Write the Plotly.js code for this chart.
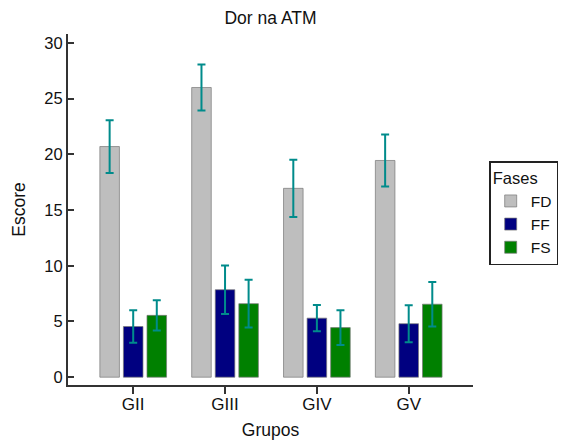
<!DOCTYPE html>
<html>
<head>
<meta charset="utf-8">
<script src="https://cdn.plot.ly/plotly-3.0.1.min.js"></script>
<style>html,body{margin:0;padding:0;background:#fff;}#chart{width:564px;height:441px;}</style>
</head>
<body>
<div id="chart"></div>
<script>
const groups = ["GII", "GIII", "GIV", "GV"];
const phases = ["FD", "FF", "FS"];
const fdValues = [20.7, 26.0, 16.95, 19.45];
const fdErrors = [2.37, 2.06, 2.57, 2.33];
const ffValues = [4.55, 7.85, 5.3, 4.8];
const ffErrors = [1.45, 2.17, 1.17, 1.66];
const fsValues = [5.55, 6.6, 4.45, 6.55];
const fsErrors = [1.35, 2.15, 1.55, 1.99];
const colors = ["#bebebe", "#000080", "#008000"];
const errColor = "#008b8b";

const seriesValues = [fdValues, ffValues, fsValues];
const seriesErrors = [fdErrors, ffErrors, fsErrors];

const traces = phases.map((p, i) => ({
  type: "bar",
  name: p,
  x: groups,
  y: seriesValues[i],
  marker: {color: colors[i], line: {color: "rgba(120,120,120,0.7)", width: 1}},
  error_y: {type: "data", array: seriesErrors[i], visible: true, color: errColor, thickness: 2, width: 4}
}));

const font = {family: "Liberation Sans, Arial, sans-serif", color: "#111"};
const fs = 17;

const layout = {
  width: 564, height: 441,
  margin: {l: 68, r: 91, t: 34, b: 56, autoexpand: false},
  paper_bgcolor: "#fff", plot_bgcolor: "#fff",
  font: Object.assign({size: fs}, font),
  title: {text: "Dor na ATM", font: Object.assign({}, font, {size: 17.5}), xref: "paper", x: 0.5, xanchor: "center", yref: "container", y: 0.959, yanchor: "middle"},
  barmode: "group",
  bargap: 0.23,
  bargroupgap: 0.17,
  xaxis: {
    range: [-0.71, 3.70],
    showline: true, linecolor: "#333", linewidth: 2,
    ticks: "outside", ticklen: 7, tickwidth: 2, tickcolor: "#333",
    ticklabelstandoff: -4,
    showgrid: false, zeroline: false,
    tickfont: Object.assign({}, font, {size: fs}),
    title: {text: "Grupos", font: Object.assign({}, font, {size: 17.5}), standoff: 10}
  },
  yaxis: {
    range: [-0.7, 30.8],
    tickvals: [0, 5, 10, 15, 20, 25, 30],
    showline: true, linecolor: "#333", linewidth: 2,
    ticks: "inside", ticklen: 6, tickwidth: 2, tickcolor: "#333",
    showgrid: false, zeroline: false,
    tickfont: Object.assign({}, font, {size: 16.5}),
    title: {text: "Escore", font: Object.assign({}, font, {size: 17.5}), standoff: 14}
  },
  legend: {
    x: 1.04, xanchor: "left", y: 0.637, yanchor: "top",
    bordercolor: "#222", borderwidth: 1.5,
    title: {text: "Fases", font: Object.assign({}, font, {size: 16.5})},
    font: Object.assign({}, font, {size: 15.5}),
    tracegroupgap: 0
  },
  showlegend: true
};

Plotly.newPlot("chart", traces, layout, {displayModeBar: false, staticPlot: true});
</script>
</body>
</html>
